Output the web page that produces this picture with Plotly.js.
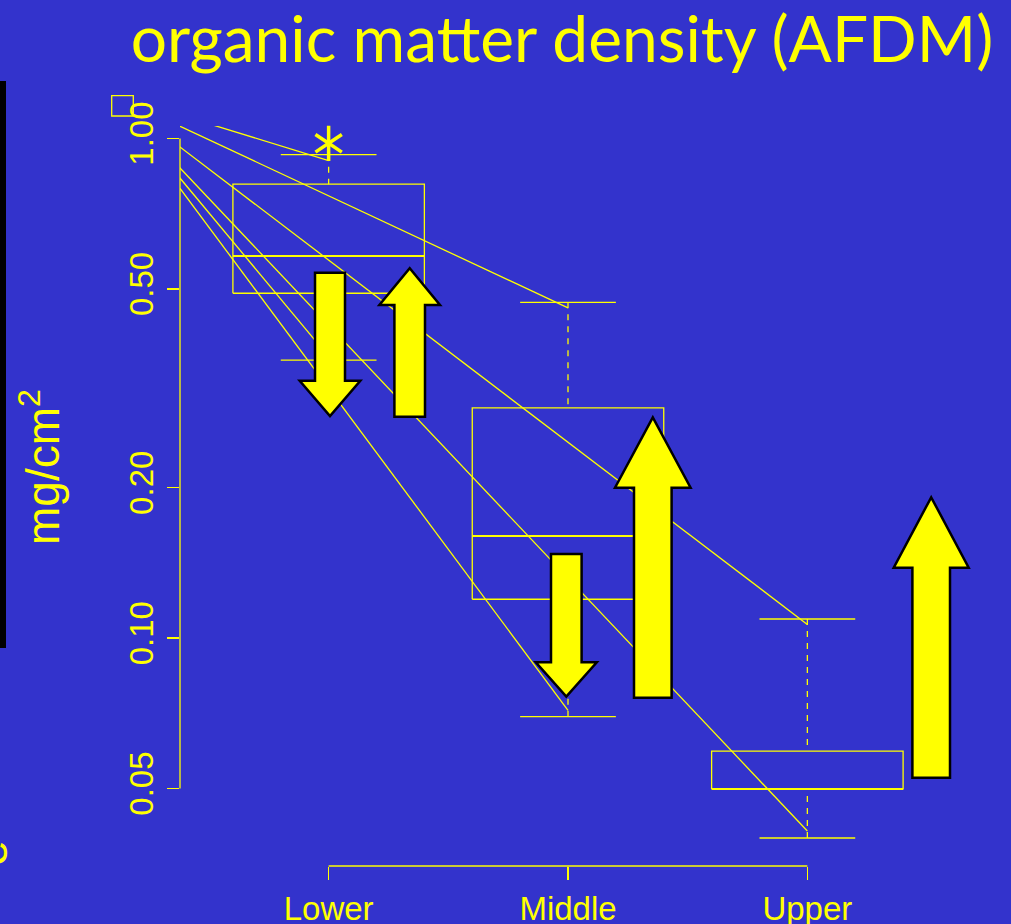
<!DOCTYPE html>
<html>
<head>
<meta charset="utf-8">
<script src="https://cdn.plot.ly/plotly-3.0.1.min.js"></script>
<style>
  html, body { margin: 0; padding: 0; background: #3333CC; }
  #chart { width: 1011px; height: 924px; }
</style>
</head>
<body>
<div id="chart"></div>
<script>
// ---- data -------------------------------------------------------------
// Site groups along the gradient
const groups = ['Lower', 'Middle', 'Upper'];

// Box-plot summaries of organic matter density (mg/cm2)
const whiskerHigh = [0.928, 0.470, 0.1092];
const quartile3   = [0.810, 0.289, 0.0594];
const medians     = [0.582, 0.160, 0.0499];
const quartile1   = [0.490, 0.1196, 0.0499];
const whiskerLow  = [0.360, 0.0696, 0.0398];

// Values beyond the whiskers
const outlierGroup = ['Lower'];
const outlierValue = [0.978];

// Fan of lines from a shared start point to each group's extremes
const fanStartPos   = 0.083;
const fanStartValue = 1.233;
const fanEndGroup   = ['Lower', 'Lower', 'Middle', 'Middle', 'Upper', 'Upper'];
const fanEndValue   = [0.903, 0.366, 0.458, 0.0717, 0.1065, 0.0411];

// Axis ticks
const yTickValues = [0.05, 0.1, 0.2, 0.5, 1];
const yTickLabels = ['0.05', '0.10', '0.20', '0.50', '1.00'];

// ---- geometry / style --------------------------------------------------
const W = 1011, H = 924;
const M = { l: 180, r: 55, t: 126, b: 58 };
const YEL = '#FFFF00';
const BG = '#3333CC';
const boxHalf = 0.4, capHalf = 0.2;
const pos = g => groups.indexOf(g) + 1;

// page pixel -> paper fraction (for decorations)
const plotW = W - M.l - M.r, plotH = H - M.t - M.b;
const px = v => (v - M.l) / plotW;
const py = v => (H - M.b - v) / plotH;

// ---- traces -------------------------------------------------------------
const boxX = [], boxY = [], medX = [], medY = [], whX = [], whY = [], capX = [], capY = [];
groups.forEach((g, i) => {
  const c = i + 1;
  boxX.push(c - boxHalf, c + boxHalf, c + boxHalf, c - boxHalf, c - boxHalf, null);
  boxY.push(quartile1[i], quartile1[i], quartile3[i], quartile3[i], quartile1[i], null);
  medX.push(c - boxHalf, c + boxHalf, null);
  medY.push(medians[i], medians[i], null);
  // whiskers run from the cap toward the box
  whX.push(c, c, null, c, c, null);
  whY.push(whiskerHigh[i], quartile3[i], null, whiskerLow[i], quartile1[i], null);
  capX.push(c - capHalf, c + capHalf, null, c - capHalf, c + capHalf, null);
  capY.push(whiskerHigh[i], whiskerHigh[i], null, whiskerLow[i], whiskerLow[i], null);
});

const fanX = [], fanY = [];
fanEndGroup.forEach((g, i) => {
  fanX.push(fanStartPos, pos(g), null);
  fanY.push(fanStartValue, fanEndValue[i], null);
});

const traces = [
  { x: fanX, y: fanY, mode: 'lines', line: { color: YEL, width: 1.3 }, hoverinfo: 'skip' },
  { x: boxX, y: boxY, mode: 'lines', line: { color: YEL, width: 1.3 }, hoverinfo: 'skip' },
  { x: medX, y: medY, mode: 'lines', line: { color: YEL, width: 2 }, hoverinfo: 'skip' },
  { x: whX, y: whY, mode: 'lines', line: { color: YEL, width: 1.3, dash: '6px,6px' }, hoverinfo: 'skip' },
  { x: capX, y: capY, mode: 'lines', line: { color: YEL, width: 1.3 }, hoverinfo: 'skip' },
  // six-armed asterisk for outliers: two three-armed symbols overlaid
  { x: outlierGroup.map(pos), y: outlierValue, mode: 'markers', cliponaxis: false,
    marker: { symbol: 'y-up-open', size: 22, color: YEL, line: { color: YEL, width: 3.5 } }, hoverinfo: 'skip' },
  { x: outlierGroup.map(pos), y: outlierValue, mode: 'markers', cliponaxis: false,
    marker: { symbol: 'y-down-open', size: 22, color: YEL, line: { color: YEL, width: 3.5 } }, hoverinfo: 'skip' }
];

// ---- big arrows (page pixels) --------------------------------------------
const arrows = [
  { cx: 330.0, sh: 15.0, hh: 30.3, tail: 272.7, base: 380.7, tip: 416.0 },
  { cx: 409.7, sh: 15.3, hh: 30.3, tail: 416.7, base: 305.0, tip: 268.3 },
  { cx: 566.3, sh: 15.3, hh: 30.5, tail: 554.0, base: 662.3, tip: 696.7 },
  { cx: 652.8, sh: 18.8, hh: 37.8, tail: 697.7, base: 487.7, tip: 417.3 },
  { cx: 931.2, sh: 18.8, hh: 37.5, tail: 777.7, base: 567.7, tip: 497.3 }
];
function arrowPath(a) {
  const pts = [
    [a.cx - a.sh, a.tail], [a.cx - a.sh, a.base], [a.cx - a.hh, a.base],
    [a.cx, a.tip], [a.cx + a.hh, a.base], [a.cx + a.sh, a.base], [a.cx + a.sh, a.tail]
  ];
  return pts.map((p, k) => (k ? 'L' : 'M') + px(p[0]).toFixed(5) + ',' + py(p[1]).toFixed(5)).join(' ') + ' Z';
}

const shapes = [
  // axis lines spanning the outer ticks only
  { type: 'line', xref: 'x', yref: 'paper', x0: 1, x1: 3, y0: 0, y1: 0, line: { color: YEL, width: 1.3 } },
  { type: 'line', xref: 'paper', yref: 'y', x0: 0, x1: 0, y0: yTickValues[0], y1: yTickValues[yTickValues.length - 1],
    line: { color: YEL, width: 1.3 } },
  // small square glyph at the top left
  { type: 'rect', xref: 'paper', yref: 'paper', x0: px(111.7), x1: px(133.3), y0: py(116), y1: py(95.7),
    line: { color: YEL, width: 1.3 }, fillcolor: 'rgba(0,0,0,0)' },
  // black bar at the left edge
  { type: 'rect', xref: 'paper', yref: 'paper', x0: px(-2), x1: px(6), y0: py(648), y1: py(81),
    line: { width: 0 }, fillcolor: '#000000' }
].concat(arrows.map(a => ({
  type: 'path', xref: 'paper', yref: 'paper', path: arrowPath(a),
  fillcolor: YEL, line: { color: '#000000', width: 2.5 }, layer: 'above'
})));

const layout = {
  width: W, height: H,
  margin: M,
  paper_bgcolor: BG, plot_bgcolor: BG,
  showlegend: false,
  font: { family: 'Liberation Sans, Arial, sans-serif', color: YEL, size: 33 },
  title: {
    text: 'organic matter density (AFDM)',
    font: { family: 'Lato, Open Sans, sans-serif', size: 64, color: YEL },
    x: 562 / W, xanchor: 'center', xref: 'container',
    y: 1 - 40 / H, yanchor: 'middle', yref: 'container'
  },
  xaxis: {
    range: [0.379, 3.621], tickvals: [1, 2, 3], ticktext: groups,
    ticks: 'outside', ticklen: 13, tickwidth: 1.3, tickcolor: YEL,
    showline: false, showgrid: false, zeroline: false, automargin: false,
    tickfont: { size: 33, color: YEL }
  },
  yaxis: {
    type: 'log', range: [-1.4562, 0.02502],
    tickvals: yTickValues, ticktext: yTickLabels, tickangle: -90,
    ticks: 'outside', ticklen: 12.5, tickwidth: 1.3, tickcolor: YEL,
    showline: false, showgrid: false, zeroline: false, automargin: false,
    tickfont: { size: 33, color: YEL }
  },
  shapes: shapes,
  annotations: [
    { text: 'mg/cm<sup>2</sup>', xref: 'paper', yref: 'paper', x: px(40), y: py(467),
      textangle: -90, showarrow: false, xanchor: 'center', yanchor: 'middle',
      font: { family: 'Liberation Sans, Arial, sans-serif', size: 46, color: YEL } },
    { text: 'e', xref: 'paper', yref: 'paper', x: px(-9), y: py(853),
      textangle: -90, showarrow: false, xanchor: 'center', yanchor: 'middle',
      font: { family: 'Liberation Sans, Arial, sans-serif', size: 46, color: YEL } }
  ]
};

Plotly.newPlot('chart', traces, layout, { displayModeBar: false, staticPlot: true });
</script>
</body>
</html>
